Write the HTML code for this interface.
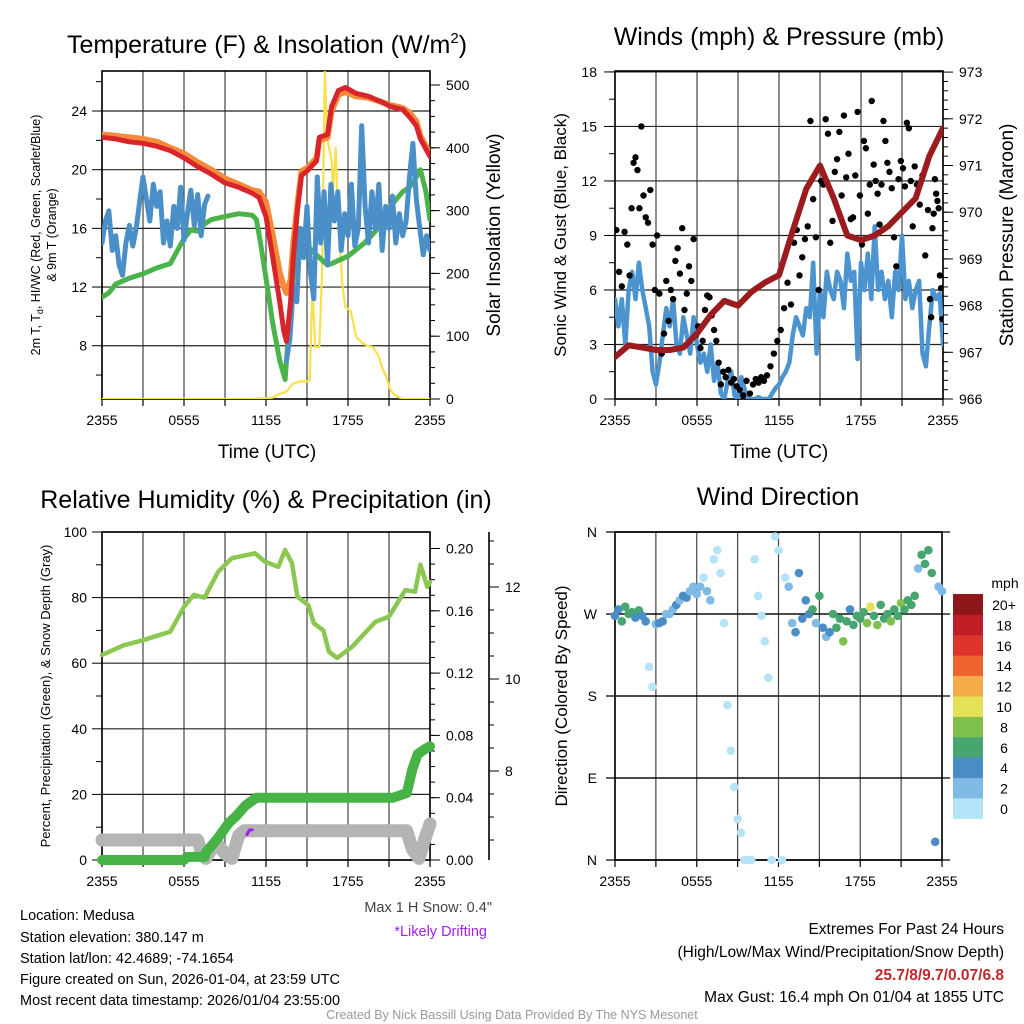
<!DOCTYPE html>
<html><head><meta charset="utf-8">
<style>
html,body{margin:0;padding:0;background:#fff;}
svg{display:block;font-family:"Liberation Sans",Arial,sans-serif;}
</style></head>
<body>
<svg id="chart" width="1024" height="1024" viewBox="0 0 1024 1024" xmlns="http://www.w3.org/2000/svg">
<defs>
<clipPath id="c1"><rect x="102" y="71" width="328" height="328"/></clipPath>
<clipPath id="c2"><rect x="615" y="71" width="328" height="328"/></clipPath>
<clipPath id="c3"><rect x="92" y="532" width="348" height="338"/></clipPath>
<clipPath id="c4"><rect x="605" y="525" width="345" height="342"/></clipPath>
</defs>
<rect x="0" y="0" width="1024" height="1024" fill="#fff"/>
<!-- titles -->
<text x="267" y="53" font-size="25" text-anchor="middle">Temperature (F) &amp; Insolation (W/m<tspan dy="-10" font-size="15">2</tspan><tspan dy="10">)</tspan></text>
<text x="779" y="45" font-size="25" text-anchor="middle">Winds (mph) &amp; Pressure (mb)</text>
<text x="266" y="508" font-size="25" text-anchor="middle">Relative Humidity (%) &amp; Precipitation (in)</text>
<text x="778" y="505" font-size="25" text-anchor="middle">Wind Direction</text>
<!-- axis titles -->
<text transform="translate(40,235) rotate(-90)" font-size="12.5" text-anchor="middle">2m T, T<tspan dy="3" font-size="9">d</tspan><tspan dy="-3">, HI/WC (Red, Green, Scarlet/Blue)</tspan></text>
<text transform="translate(56,235) rotate(-90)" font-size="12.5" text-anchor="middle">&amp; 9m T (Orange)</text>
<text transform="translate(500,235) rotate(-90)" font-size="19" text-anchor="middle">Solar Insolation (Yellow)</text>
<text x="267" y="458" font-size="19" text-anchor="middle">Time (UTC)</text>
<text transform="translate(566,235) rotate(-90)" font-size="17" text-anchor="middle">Sonic Wind &amp; Gust (Blue, Black)</text>
<text transform="translate(1013,235) rotate(-90)" font-size="19" text-anchor="middle">Station Pressure (Maroon)</text>
<text x="779" y="458" font-size="19" text-anchor="middle">Time (UTC)</text>
<text transform="translate(50,696) rotate(-90)" font-size="13" text-anchor="middle">Percent, Precipitation (Green), &amp; Snow Depth (Gray)</text>
<text transform="translate(567,696) rotate(-90)" font-size="17" text-anchor="middle">Direction (Colored By Speed)</text>
<!-- bottom text -->
<g font-size="14.5">
<text x="20" y="920">Location: Medusa</text>
<text x="20" y="942">Station elevation: 380.147 m</text>
<text x="20" y="963">Station lat/lon: 42.4689; -74.1654</text>
<text x="20" y="984">Figure created on Sun, 2026-01-04, at 23:59 UTC</text>
<text x="20" y="1005">Most recent data timestamp: 2026/01/04 23:55:00</text>
</g>
<text x="492" y="912" font-size="14.5" fill="#444" text-anchor="end">Max 1 H Snow: 0.4"</text>
<text x="487" y="936" font-size="14.5" fill="#a020f0" text-anchor="end">*Likely Drifting</text>
<text x="1004" y="934" font-size="15.5" text-anchor="end">Extremes For Past 24 Hours</text>
<text x="1004" y="957" font-size="15.5" text-anchor="end">(High/Low/Max Wind/Precipitation/Snow Depth)</text>
<text x="1004" y="980" font-size="15.5" font-weight="bold" fill="#c0282d" text-anchor="end">25.7/8/9.7/0.07/6.8</text>
<text x="1004" y="1002" font-size="15.5" text-anchor="end">Max Gust: 16.4 mph On 01/04 at 1855 UTC</text>
<text x="512" y="1019" font-size="12.5" fill="#999" text-anchor="middle">Created By Nick Bassill Using Data Provided By The NYS Mesonet</text>
</svg>
<script>
// ---------- DATA ----------
const timeLabels = ["2355","0555","1155","1755","2355"];
// Panel 1
const tempTimes = [0,1,2,3,4,5,6,7,8,9,10,11,11.5,12,12.5,13,13.3,13.5,13.8,14,14.3,14.6,15,15.7,15.9,16.5,16.8,17.3,17.8,18.6,19.5,20.5,21.1,22,22.5,23,23.3,23.7,24];
const tempRed = [22.2,22.1,21.9,21.8,21.6,21.3,20.8,20.2,19.7,19.1,18.8,18.4,18.1,16.8,14,11,9,8.3,11,14,17.2,19.6,19.9,20.6,22.2,22.4,24.3,25.4,25.6,25.2,25.0,24.6,24.3,24.1,23.6,23.0,22.1,21.4,20.9];
const tempOrange = [22.4,22.3,22.2,22.1,21.9,21.5,21.1,20.5,20.0,19.4,19.0,18.6,18.5,17.8,15.5,13,12,11.6,12.5,15,17.6,19.9,20.1,20.8,22.0,22.2,24.0,25.1,25.3,25.0,24.9,24.6,24.4,24.2,23.9,23.3,22.3,21.6,21.1];
const dewTimes = [0,0.5,1,2,3,4,5,6,6.5,7,7.5,8,9,10,11,11.3,11.6,12,12.5,13,13.4,13.7,14,14.3,15,15.8,16.5,16.8,17.5,18,19.2,20,21.1,22,22.5,23,23.3,23.7,24];
const dewVals = [11.3,11.6,12.2,12.6,12.9,13.3,13.6,15.3,15.9,15.8,16.3,16.6,16.8,17.0,16.9,16.6,15.0,12.6,9.5,7.0,5.7,9.5,13,15.0,14.8,14.1,13.5,13.6,13.9,14.1,15.0,15.8,17.5,18.5,18.8,19.5,20.0,18.5,16.6];
const chillVals = [15,16.5,17.2,14.5,15.5,13.5,12.8,15,16.2,14.8,16,17.8,19.5,18,16.5,19,17.5,18.5,15,16.5,14.8,17.5,16,18.8,15.2,17,18.6,16.2,18.3,15.5,17.6,18.2,
 null,null,null,null,null,null,null,null,null,null,null,null,null,null,null,null,null,null,null,null,null,null,
 7,8.5,12,11,16,14,17.5,13,11.2,19.5,15,18.5,13.5,19,16.5,18.5,14.5,17,15.5,19,14.8,16,23,17.5,15,18.5,16,19,14.5,17.5,16,18.2,15,17,15.5,16.5,19.5,21.8,18,16,14.2,15.5,14.5];
const solarTimes = [0,11,12.5,13,13.5,14,14.5,15,15.2,15.4,15.6,15.9,16.1,16.3,16.5,16.8,16.9,17.1,17.3,17.6,17.8,18.2,18.6,19,19.4,19.8,20.2,20.5,20.8,21.1,21.5,22,24];
const solarVals = [0,0,2,8,12,25,28,28,30,178,83,83,200,522,412,380,330,400,280,180,147,140,99,90,85,83,70,50,35,14,5,0,0];
const tempTicks = [8,12,16,20,24];
const solarTicks = [0,100,200,300,400,500];
// Panel 2
const pressureHours = [0,1,2,3,4,5,6,7,8,9,10,11,12,13,14,15,16,17,18,19,20,21,22,23,24];
const pressureVals = [966.9,967.15,967.1,967.05,967.05,967.1,967.4,967.8,968.1,968.0,968.3,968.5,968.65,969.6,970.5,971.0,970.3,969.5,969.4,969.5,969.7,970.0,970.3,971.2,971.8];
const windVals = [5.5,4,5.5,3,6,7,5.5,7.5, 6,5,4,1.5,0.8,2,3.5,5, 4,5.5,3,2.5,4.5,3.5,2.5,4.5, 3,2,2.5,1.5,3,1,2,0.3, 0,1,1.5,0.2,0,1.2,0.5,0, 0,0,0.1,0,0,0,0.3,0.6, 0.8,1.2,1.5,2,3.5,4.5,4,3.5, 5,4.5,7.5,2.5,6,4.5,7,6, 5.5,7,6.5,5,8,6.5,7,2.2, 7.5,6,8,5.5,9.5,6,7,5.5, 6.5,4.5,7,6,9,5.5,6.5,5, 6,6.5,2.5,1.8,4,6,5.5,5.8,3];
const gustByHour = [
 [9.3,7,6.2,9.2,8.5],[6.8,10.5,13,13.3,12.6,10.5,15],[11.2,10,9.7,11.5,8.5,6],[9,5.8,2.5,3.6,6.5,4.3],
 [6,5.5,7.6,8.3,6.9,9.4],[4.9,5.8,7.3,6.5,8.8,3.5],[4,2.8,3.2,4.9,5.7,5.6],[4.6,3.8,3.2,2.0,0.8,1.5],
 [1.2,1.6,0.9,1.1,0.7],[0.5,0.2,1.0,0.3],[0.8,1.1,0.9,1.2,1.0],[1.3,1.8,2.5,3.2],
 [3.8,5.0,6.4,5.2],[8.6,9.3,6.8,7.8,8.8],[9.5,15.3,11,8.9,6],[12,11.8,15.4,14.6,8.6,9.8],
 [12.5,13.2,14.7,11.2,15.6,12.2],[13.5,9.9,10,12.3,15.8,11.2],[8.5,14.2,13.8,10.2,11.8,16.4,12.9],[12,11.3,9.6,11.8,15.3,14.2,13],
 [12.5,11.6,8.9,7.3,12.1,13.1],[12.7,11.7,15.2,14.9,12,9.5,12.8],[11.8,10.7,12.3,7.9,10.4],[5.5,4.5,9.4,10.2,12.1,11.3,10.9,10.5,6.8,6.1,4.4]
];
const windTicks = [0,3,6,9,12,15,18];
const pressureTicks = [966,967,968,969,970,971,972,973];
// Panel 3
const rhTimes = [0,1.6,3.0,5.0,6.0,6.7,7.5,8.5,9.5,11.2,11.9,12.9,13.4,13.9,14.3,15.1,15.5,16.2,16.6,17.2,18.3,20.0,21.0,22.2,22.9,23.3,23.8,24];
const rhVals = [62.5,65.5,67,69.6,77.2,80.8,80,87.9,92,93.5,91,89.4,94.5,90.5,80.3,77.7,72.2,70,63.5,61.6,65,72.6,74.2,82.3,81.8,90,83.3,84.8];
const precipTimes = [0,6.0,6.2,7.5,7.6,8.3,8.8,9.3,9.8,10.5,11.3,21.3,22.3,22.7,23.1,23.6,24];
const precipVals = [0,0,0.002,0.002,0.005,0.012,0.018,0.024,0.028,0.035,0.04,0.04,0.043,0.058,0.068,0.071,0.073];
const snowTimes = [0,7,7.3,7.6,8,8.5,9,9.5,10,10.4,22.3,22.7,23.2,23.6,24];
const snowVals = [6.5,6.5,6.2,6.1,6.3,6.4,6.2,6.1,6.6,6.7,6.7,6.3,6.1,6.5,6.85];
const driftTimes = [10.6,10.8,11.0];
const driftVals = [6.62,6.72,6.72];
const rhTicks = [0,20,40,60,80,100];
const precipTicks = ["0.00","0.04","0.08","0.12","0.16","0.20"];
const snowTicks = [8,10,12];
// Panel 4
const dirVals = [268,275,262,278,270,272,266,274, 268,262,212,190,259,260,262,270, 270,275,280,285,290,288,295,300, 292,300,310,295,285,330,340,315, 260,170,120,80,45,30,0,0, 0,330,290,268,240,200,0,355, 340,0,310,300,260,250,315,265, 285,270,275,260,290,255,245,250, 270,255,265,240,262,275,258,268, 265,272,260,278,268,258,280,265, 270,262,275,268,282,275,285,280, 290,320,335,325,340,315,20,300, 295];
const spdVals = [4,5,6,6,7,6,5,6, 4,4,1,1,3,4,4,3, 3,2,4,3,4,4,2,2, 2,2,1,2,3,1,0,1, 1,0,0,0,0,0,0,0, 0,0,0,0,0,0,0,0, 0,0,1,2,3,4,4,4, 4,4,6,3,7,4,3,4, 7,6,7,8,6,4,7,6, 7,6,8,10,6,8,7,6, 6,8,6,7,8,6,6,6, 6,2,6,6,6,6,4,2, 2];
const dirTicks = ["N","E","S","W","N"];
const speedBinLabels = ["0","2","4","6","8","10","12","14","16","18","20+"];
const speedBinColors = ["#b5e3f8","#7fbbe4","#4a8dc6","#47a56f","#7fc14b","#e4e057","#f5ad4b","#ee6431","#dd342c","#bf1e24","#8d1719"];

// ---------- AXIS FUNCTIONS ----------
const x1 = t => 102 + t*328/24;
const yT = v => 111 + (24-v)*14.67;
const yS = v => 399 - v*0.628;
const x2 = t => 615 + t*328/24;
const yW = w => 399 - w*18.17;
const yP = p => 399 - (p-966)*46.7;
const x3 = x1;
const yR = v => 860 - v*3.28;
const yPr = v => 860 - v*1557.5;
const ySd = v => 771 - (v-8)*46;
const x4 = t => 615 + t*327/24;
const yD = d => 860 - d*328/360;
const qt = i => i/4;

const svg = document.getElementById('chart');
const NS = 'http://www.w3.org/2000/svg';
function mk(tag, attrs, parent){
  const e = document.createElementNS(NS, tag);
  for (const k in attrs) e.setAttribute(k, attrs[k]);
  (parent||svg).appendChild(e);
  return e;
}
function txt(x,y,s,size,anchor,parent){
  const e = mk('text',{x:x,y:y,'font-size':size,'text-anchor':anchor},parent);
  e.textContent = s;
  return e;
}
function pathFrom(xs, ys){
  let d = '', pen = false;
  for (let i=0;i<xs.length;i++){
    if (ys[i]===null || ys[i]===undefined){ pen=false; continue; }
    d += (pen?'L':'M') + xs[i].toFixed(1) + ' ' + ys[i].toFixed(1) + ' ';
    pen = true;
  }
  return d;
}

// ---------- PANEL FRAMES ----------
function frame(left, top, w, h, vlines, hlines, name){
  const g = mk('g',{});
  
  
  vlines.forEach(x => {
    const l = mk('line',{x1:x,y1:top,x2:x,y2:top+h,stroke:'#444','stroke-width':1.2},g);
    
    
  });
  hlines.forEach(y => {
    const l = mk('line',{x1:left,y1:y,x2:left+w,y2:y,stroke:'#222','stroke-width':1.2},g);
    
    
  });
  const r = mk('rect',{x:left,y:top,width:w,height:h,fill:'none',stroke:'#000','stroke-width':1.6},g);
  
  
  return g;
}
const threeHours = [0,3,6,9,12,15,18,21,24];
frame(102,71,328,328, threeHours.map(x1), tempTicks.map(yT), 'temperature-panel');
frame(615,71,328,328, threeHours.map(x2), windTicks.map(yW), 'wind-panel');
frame(102,532,328,328, threeHours.map(x3), rhTicks.map(yR), 'humidity-panel');
frame(615,532,327,328, threeHours.map(x4), [0,90,180,270,360].map(yD), 'direction-panel');

function xAxis(fx, yBottom, name){
  const g = mk('g',{'font-size':14});
  
  
  threeHours.forEach(t => mk('line',{x1:fx(t),y1:yBottom,x2:fx(t),y2:yBottom+7,stroke:'#000','stroke-width':1.2},g));
  timeLabels.forEach((s,i) => txt(fx(i*6), yBottom+26, s, 14, 'middle', g));
}
xAxis(x1,399,'temp-x-axis');
xAxis(x2,399,'wind-x-axis');
xAxis(x3,860,'rh-x-axis');
xAxis(x4,860,'direction-x-axis');

(function(){
  const g = mk('g',{});
  
  
  [6,10,14,18,22,26].forEach(v => mk('line',{x1:96,y1:yT(v),x2:102,y2:yT(v),stroke:'#000'},g));
  tempTicks.forEach(v => { mk('line',{x1:92,y1:yT(v),x2:102,y2:yT(v),stroke:'#000'},g); txt(87,yT(v)+5,String(v),14,'end',g); });
  const g2 = mk('g',{});
  
  
  for (let v=0; v<=520; v+=25) mk('line',{x1:430,y1:yS(v),x2:435,y2:yS(v),stroke:'#000'},g2);
  solarTicks.forEach(v => { mk('line',{x1:430,y1:yS(v),x2:440,y2:yS(v),stroke:'#000'},g2); txt(446,yS(v)+5,String(v),14,'start',g2); });
})();
(function(){
  const g = mk('g',{});
  
  
  for (let v=0; v<=18; v+=1.5) mk('line',{x1:609,y1:yW(v),x2:615,y2:yW(v),stroke:'#000'},g);
  windTicks.forEach(v => { mk('line',{x1:604,y1:yW(v),x2:615,y2:yW(v),stroke:'#000'},g); txt(597,yW(v)+5,String(v),14,'end',g); });
  const g2 = mk('g',{});
  
  
  for (let v=966; v<=973; v+=0.2) mk('line',{x1:943,y1:yP(v),x2:948,y2:yP(v),stroke:'#000'},g2);
  pressureTicks.forEach(v => { mk('line',{x1:943,y1:yP(v),x2:953,y2:yP(v),stroke:'#000'},g2); txt(959,yP(v)+5,String(v),14,'start',g2); });
})();
(function(){
  const g = mk('g',{});
  
  
  for (let v=10; v<100; v+=20) mk('line',{x1:96,y1:yR(v),x2:102,y2:yR(v),stroke:'#000'},g);
  rhTicks.forEach(v => { mk('line',{x1:92,y1:yR(v),x2:102,y2:yR(v),stroke:'#000'},g); txt(87,yR(v)+5,String(v),14,'end',g); });
  const g2 = mk('g',{});
  
  
  for (let v=0; v<=0.21; v+=0.01) mk('line',{x1:430,y1:yPr(v),x2:435,y2:yPr(v),stroke:'#000'},g2);
  precipTicks.forEach(s => { const v=parseFloat(s); mk('line',{x1:430,y1:yPr(v),x2:440,y2:yPr(v),stroke:'#000'},g2); txt(446,yPr(v)+5,s,14,'start',g2); });
  const g3 = mk('g',{});
  
  
  mk('line',{x1:489,y1:532,x2:489,y2:860,stroke:'#000','stroke-width':1.6},g3);
  for (let v=6.5; v<=13; v+=0.5) { if (ySd(v)>=532 && ySd(v)<=860) mk('line',{x1:489,y1:ySd(v),x2:494,y2:ySd(v),stroke:'#000'},g3); }
  snowTicks.forEach(v => { mk('line',{x1:489,y1:ySd(v),x2:499,y2:ySd(v),stroke:'#000'},g3); txt(505,ySd(v)+5,String(v),14,'start',g3); });
})();
(function(){
  const g = mk('g',{});
  
  
  dirTicks.forEach((s,i) => { const y=yD(i*90); mk('line',{x1:606,y1:y,x2:950,y2:y,stroke:'#000','stroke-width':1.2},g); txt(597,y+5,s,14,'end',g); });
})();

// ---------- SERIES ----------
function series(xs, ys, color, width, clip, name){
  const p = mk('path',{d:pathFrom(xs,ys),fill:'none',stroke:color,'stroke-width':width,'stroke-linejoin':'round','stroke-linecap':'round','clip-path':'url(#'+clip+')'});
  
  
  return p;
}
series(solarTimes.map(x1), solarVals.map(yS), '#f9e04b', 2.2, 'c1', 'solar-insolation-line');
series(dewTimes.map(x1), dewVals.map(yT), '#4ab34a', 5, 'c1', 'dewpoint-line');
series(chillVals.map((v,i) => x1(qt(i))), chillVals.map(v => v===null?null:yT(v)), '#4a8fc8', 5, 'c1', 'wind-chill-line');
series(tempTimes.map(x1), tempOrange.map(yT), '#f68a3a', 6, 'c1', 'temp-9m-line');
series(tempTimes.map(x1), tempRed.map(yT), '#d8242b', 5, 'c1', 'temp-2m-line');
series(windVals.map((v,i) => x2(qt(i))), windVals.map(yW), '#4c94d0', 4.5, 'c2', 'sonic-wind-line');
(function(){
  const g = mk('g',{'clip-path':'url(#c2)'});
  
  
  gustByHour.forEach((arr,h) => arr.forEach((v,i) => {
    const t = h + (i+0.5)/arr.length;
    const c = mk('circle',{cx:x2(t),cy:yW(v),r:3.2,fill:'#000'},g);
    
    
  }));
})();
series(pressureHours.map(x2), pressureVals.map(yP), '#9b1b1e', 6, 'c2', 'pressure-line');
series(snowTimes.map(x3), snowVals.map(ySd), '#b4b4b4', 13, 'c3', 'snow-depth-line');
series(driftTimes.map(x3), driftVals.map(ySd), '#a020f0', 3, 'c3', 'drifting-marker');
series(precipTimes.map(x3), precipVals.map(yPr), '#47b347', 10, 'c3', 'precipitation-line');
series(rhTimes.map(x3), rhVals.map(yR), '#8cc752', 4.5, 'c3', 'relative-humidity-line');
(function(){
  const g = mk('g',{'clip-path':'url(#c4)'});
  
  
  dirVals.forEach((d,i) => {
    const bin = Math.min(10, Math.floor(spdVals[i]/2));
    const c = mk('circle',{cx:x4(qt(i)),cy:yD(d),r:4.3,fill:speedBinColors[bin]},g);
    
    
  });
})();
(function(){
  const g = mk('g',{});
  
  
  const top = 594, bh = 20.4;
  txt(1005,588,'mph',14,'middle',g);
  speedBinLabels.forEach((s,i) => {
    const k = 10 - i;
    const r = mk('rect',{x:953,y:top+k*bh,width:30,height:bh+0.5,fill:speedBinColors[i]},g);
    
    
    txt(1004, top+k*bh+16, s, 14, 'middle', g);
  });
})();
</script>
</body></html>
